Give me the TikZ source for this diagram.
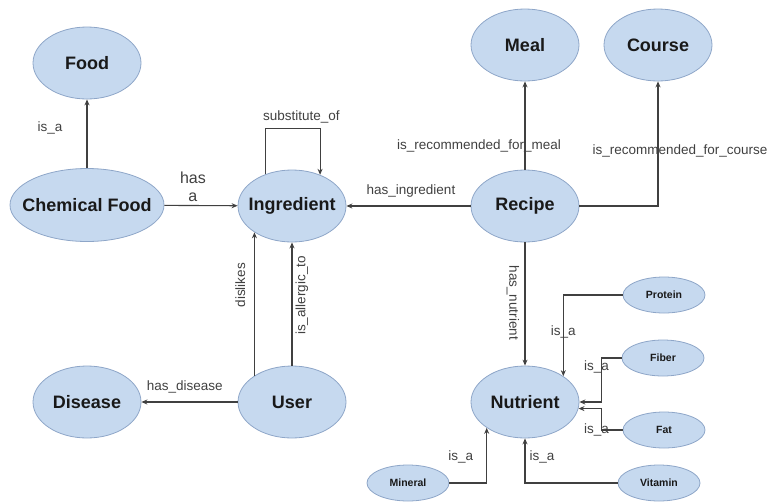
\documentclass[tikz,border=0pt]{standalone}
\usepackage{fontspec}
\setmainfont{Liberation Sans}
\usetikzlibrary{shapes.geometric,arrows.meta}
\definecolor{nodefill}{RGB}{198,217,239}
\definecolor{nodeline}{RGB}{142,166,200}

\begin{document}
\begin{tikzpicture}[x=1pt,y=-1pt,>={Stealth[length=6pt,width=5pt]},
  concept/.style={ellipse,draw=nodeline,fill=nodefill,line width=0.8pt,minimum width=108pt,minimum height=72pt,inner xsep=-12pt,inner ysep=0pt,text=black!90,font=\fontsize{18}{20}\selectfont\bfseries},
  small concept/.style={concept,minimum width=82pt,minimum height=36pt,inner xsep=0pt,font=\fontsize{10.5}{12}\selectfont\bfseries},
  rel/.style={inner sep=1pt,text=black!75,font=\fontsize{13.5}{15}\selectfont},
  link/.style={->,draw=black!75,line width=1.1pt}]

\useasboundingbox (0,0) rectangle (776,501);

% concepts
\node[concept] (food) at (87,63) {Food};
\node[concept, minimum width=154pt, minimum height=73pt] (chem) at (87,205) {Chemical Food};
\node[concept] (ingr) at (292,206) {Ingredient};
\node[concept] (recipe) at (525,206) {Recipe};
\node[concept] (meal) at (525,45) {Meal};
\node[concept] (course) at (658,45) {Course};
\node[concept] (disease) at (87,402) {Disease};
\node[concept] (user) at (292,402) {User};
\node[concept] (nutr) at (525,402) {Nutrient};

% nutrient kinds
\node[small concept] (protein) at (664,295) {Protein};
\node[small concept] (fiber) at (663,358) {Fiber};
\node[small concept] (fat) at (664,430) {Fat};
\node[small concept] (vitamin) at (659,483) {Vitamin};
\node[small concept] (mineral) at (408,483) {Mineral};

% relations
\draw[link] (chem) -- node[rel, pos=.59, left=23pt] {is\_a} (food);
\draw[link] (chem) -- node[rel, pos=.39, above=2pt, align=center, font=\fontsize{16}{18}\selectfont] {has\\a} (ingr);
\draw[link] (ingr.130) -- ++(0,-46) -| node[rel, pos=.33, above=4pt] {substitute\_of} (ingr.48);
\draw[link] (recipe) -- node[rel, pos=.48, above=7pt] {has\_ingredient} (ingr);
\draw[link] (recipe) -- node[rel, pos=.27, xshift=-46pt] {is\_recommended\_for\_meal} (meal);
\draw[link] (recipe) -| node[rel, pos=.72, anchor=west, xshift=-67pt] {is\_recommended\_for\_course} (course);
\draw[link] (recipe) -- node[rel, pos=.49, xshift=-12pt, rotate=-90] {has\_nutrient} (nutr);
\draw[link] (user.145) -- node[rel, pos=.63, xshift=-14pt, rotate=90] {dislikes} (ingr.215);
\draw[link] (user) -- node[rel, pos=.57, xshift=10pt, rotate=90] {is\_allergic\_to} (ingr);
\draw[link] (user) -- node[rel, pos=.55, above=7pt] {has\_disease} (disease);

% is_a links to nutrient
\draw[link] (protein) -| node[rel, pos=.73] {is\_a} (nutr.34);
\draw[link] (fiber) -| node[rel, pos=.6, xshift=-5pt] {is\_a} ([xshift=22pt]nutr.east) -- (nutr.east);
\draw[link] (fat) -| node[rel, pos=.5, xshift=-5pt] {is\_a} ([xshift=23pt]nutr.-7.6) -- (nutr.-7.6);
\draw[link] (vitamin) -| node[rel, pos=.79, xshift=17pt] {is\_a} (nutr);
\draw[link] (mineral) -| node[rel, pos=.74, xshift=-26pt] {is\_a} (nutr.214);

\end{tikzpicture}
\end{document}
